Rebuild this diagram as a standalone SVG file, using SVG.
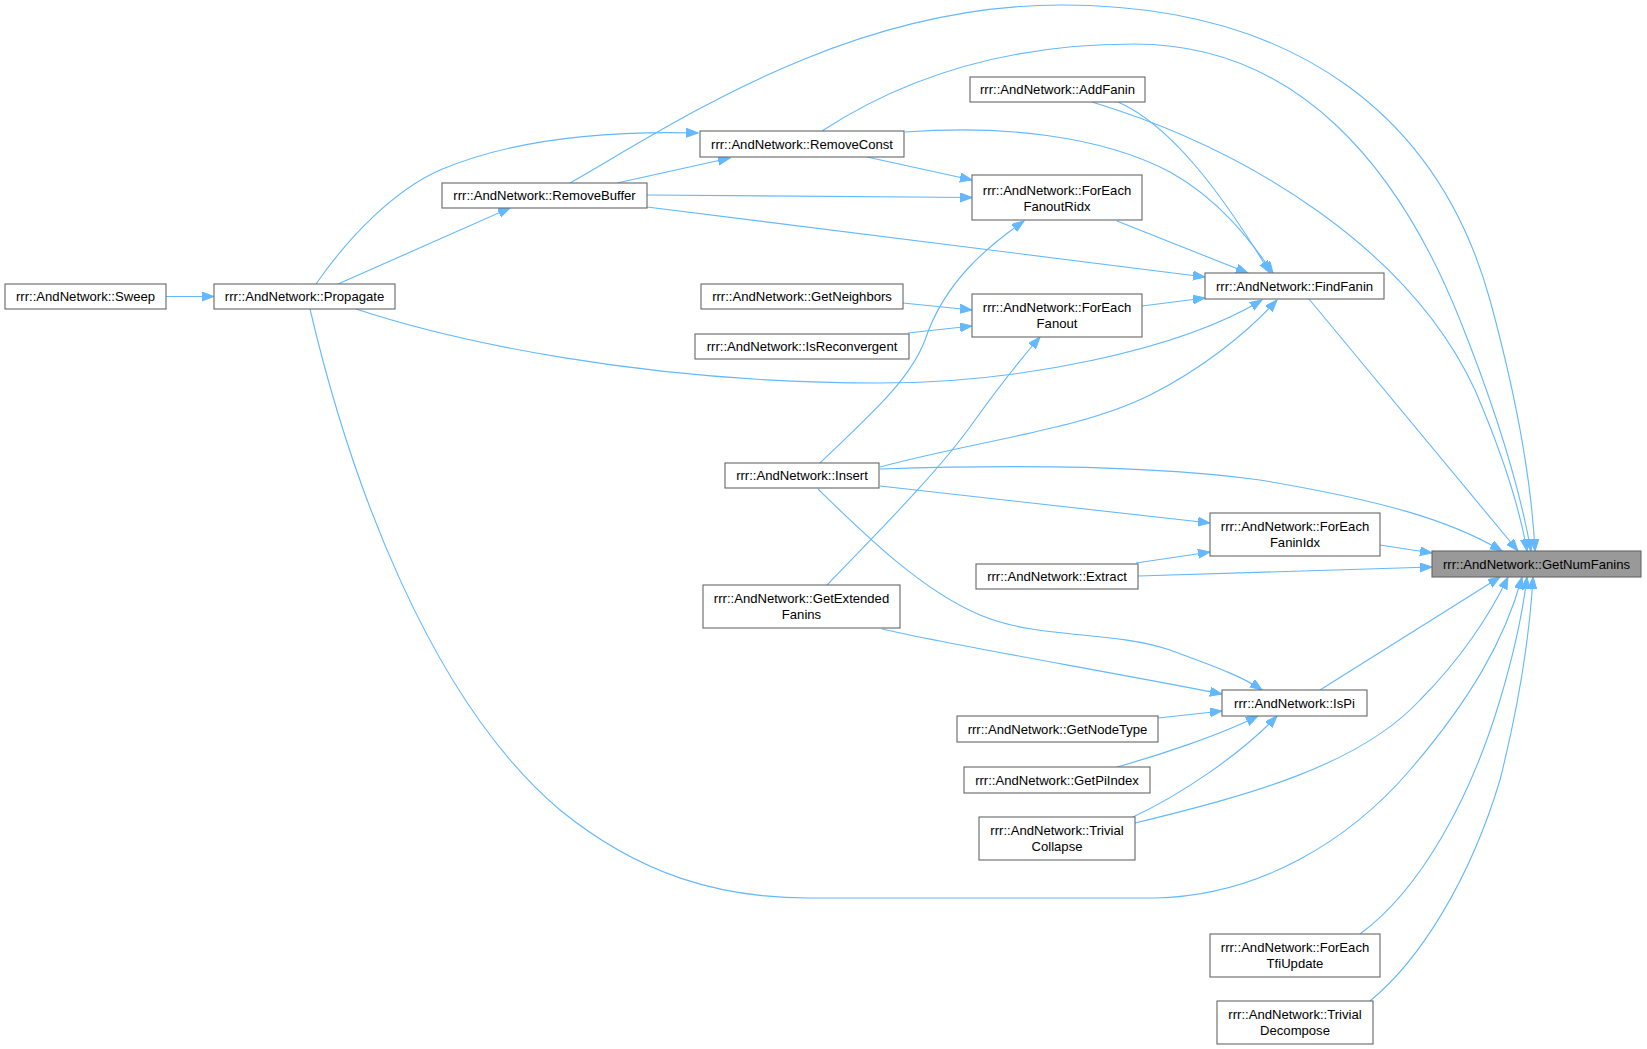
<svg xmlns="http://www.w3.org/2000/svg" width="1647" height="1049" viewBox="0 0 1647 1049">
<defs>
<marker id="ah" markerUnits="userSpaceOnUse" markerWidth="13" markerHeight="10" refX="12" refY="4.5" orient="auto">
<path d="M0,0 L12,4.5 L0,9 z" fill="#63b8ff" stroke="#63b8ff" stroke-width="1"/>
</marker>
<style>
.e{fill:none;stroke:#63b8ff;stroke-width:1.1;marker-end:url(#ah)}
.n rect{fill:#ffffff;stroke:#666666;stroke-width:1.1}
.n.hl rect{fill:#999999}
.n text{font-family:"Liberation Sans",Arial,Helvetica,sans-serif;font-size:13.1px;fill:#000000;text-anchor:middle}
</style>
</defs>
<rect x="0" y="0" width="1647" height="1049" fill="#ffffff"/>
<g id="edges">
<path class="e" d="M166,296.5 L214,296.5"/>
<path class="e" d="M338,284 L510,208"/>
<path class="e" d="M316,284 C350,235 395,190 440,170 C520,136 620,131 698,133"/>
<path class="e" d="M356,309 C450,340 640,383 880,383 C1020,383 1180,350 1262,300"/>
<path class="e" d="M310,309 C350,480 430,700 560,810 C640,875 720,898 809,898 L1155,898 C1260,896 1350,840 1410,770 C1470,700 1505,640 1522,577"/>
<path class="e" d="M617,183 L730,158"/>
<path class="e" d="M647,195 L972,197.5"/>
<path class="e" d="M647,207 L1205,277"/>
<path class="e" d="M570,183 C680,120 850,5 1061,5 C1300,5 1440,120 1490,300 C1520,410 1532,490 1535,551"/>
<path class="e" d="M867,157 L972,180"/>
<path class="e" d="M905,132 C1000,125 1100,135 1170,172 C1220,200 1250,240 1273,273"/>
<path class="e" d="M822,131 C900,80 1000,44 1134,44 C1300,44 1400,170 1460,320 C1500,420 1520,490 1531,551"/>
<path class="e" d="M1118,102 C1170,125 1220,190 1270,273"/>
<path class="e" d="M1092,102 C1250,150 1410,250 1475,390 C1505,460 1520,510 1527,551"/>
<path class="e" d="M1117,221 L1248,273"/>
<path class="e" d="M903,303 L972,310"/>
<path class="e" d="M908,333 L972,326"/>
<path class="e" d="M1142,306 L1205,298"/>
<path class="e" d="M1309,299 L1518,551"/>
<path class="e" d="M820,463 C870,415 910,380 925,340 C945,280 990,245 1024,221"/>
<path class="e" d="M880,467 C980,440 1080,430 1150,395 C1200,370 1245,335 1277,300"/>
<path class="e" d="M880,469 C1000,465 1150,465 1260,480 C1380,500 1450,520 1502,551"/>
<path class="e" d="M880,486 L1210,523"/>
<path class="e" d="M818,489 C860,530 920,590 980,615 C1040,640 1110,630 1170,650 C1210,665 1240,675 1262,690"/>
<path class="e" d="M827,585 C880,530 940,470 975,420 C1000,385 1020,360 1040,337"/>
<path class="e" d="M882,629 C950,645 1100,670 1222,694"/>
<path class="e" d="M1380,545 L1432,553"/>
<path class="e" d="M1136,563 L1210,552"/>
<path class="e" d="M1138,576 L1432,567"/>
<path class="e" d="M1320,690 L1500,577"/>
<path class="e" d="M1158,718 L1222,711"/>
<path class="e" d="M1117,767 C1160,755 1220,735 1258,716"/>
<path class="e" d="M1133,817 C1180,795 1240,755 1277,716"/>
<path class="e" d="M1135,823 C1250,795 1360,765 1420,700 C1460,660 1490,615 1508,577"/>
<path class="e" d="M1360,934 C1420,890 1470,800 1500,700 C1515,650 1523,610 1527,577"/>
<path class="e" d="M1370,1001 C1420,960 1470,880 1500,780 C1520,700 1530,630 1533,577"/>
</g>
<g id="n_sweep" class="n"><rect x="5" y="284" width="161" height="25"/><text x="85.5" y="301">rrr::AndNetwork::Sweep</text></g>
<g id="n_propagate" class="n"><rect x="214" y="284" width="181" height="25"/><text x="304.5" y="301">rrr::AndNetwork::Propagate</text></g>
<g id="n_removebuffer" class="n"><rect x="442" y="183" width="205" height="25"/><text x="544.5" y="200">rrr::AndNetwork::RemoveBuffer</text></g>
<g id="n_removeconst" class="n"><rect x="700" y="131" width="204" height="26"/><text x="802" y="148.5">rrr::AndNetwork::RemoveConst</text></g>
<g id="n_addfanin" class="n"><rect x="970" y="77" width="175" height="25"/><text x="1057.5" y="94">rrr::AndNetwork::AddFanin</text></g>
<g id="n_foreachfanoutridx" class="n"><rect x="972" y="175" width="170" height="45"/><text x="1057" y="194.6">rrr::AndNetwork::ForEach</text><text x="1057" y="211.4">FanoutRidx</text></g>
<g id="n_getneighbors" class="n"><rect x="701" y="284" width="202" height="25"/><text x="802" y="301">rrr::AndNetwork::GetNeighbors</text></g>
<g id="n_isreconvergent" class="n"><rect x="695" y="334" width="214" height="25"/><text x="802" y="351">rrr::AndNetwork::IsReconvergent</text></g>
<g id="n_foreachfanout" class="n"><rect x="972" y="294" width="170" height="43"/><text x="1057" y="312.3">rrr::AndNetwork::ForEach</text><text x="1057" y="328">Fanout</text></g>
<g id="n_findfanin" class="n"><rect x="1205" y="273" width="179" height="26"/><text x="1294.5" y="290.5">rrr::AndNetwork::FindFanin</text></g>
<g id="n_insert" class="n"><rect x="725" y="463" width="154" height="25"/><text x="802" y="480">rrr::AndNetwork::Insert</text></g>
<g id="n_foreachfaninidx" class="n"><rect x="1210" y="513" width="170" height="43"/><text x="1295" y="531.2">rrr::AndNetwork::ForEach</text><text x="1295" y="547">FaninIdx</text></g>
<g id="n_extract" class="n"><rect x="976" y="564" width="162" height="25"/><text x="1057" y="581">rrr::AndNetwork::Extract</text></g>
<g id="n_getnumfanins" class="n hl"><rect x="1432" y="551" width="209" height="26"/><text x="1536.5" y="568.5">rrr::AndNetwork::GetNumFanins</text></g>
<g id="n_getextendedfanins" class="n"><rect x="703" y="585" width="197" height="43"/><text x="801.5" y="603.2">rrr::AndNetwork::GetExtended</text><text x="801.5" y="619">Fanins</text></g>
<g id="n_ispi" class="n"><rect x="1222" y="690" width="145" height="26"/><text x="1294.5" y="708">rrr::AndNetwork::IsPi</text></g>
<g id="n_getnodetype" class="n"><rect x="957" y="716" width="201" height="26"/><text x="1057.5" y="733.5">rrr::AndNetwork::GetNodeType</text></g>
<g id="n_getpiindex" class="n"><rect x="964" y="767" width="186" height="26"/><text x="1057" y="784.5">rrr::AndNetwork::GetPiIndex</text></g>
<g id="n_trivialcollapse" class="n"><rect x="979" y="817" width="156" height="43"/><text x="1057" y="835.2">rrr::AndNetwork::Trivial</text><text x="1057" y="851">Collapse</text></g>
<g id="n_foreachtfiupdate" class="n"><rect x="1210" y="934" width="170" height="43"/><text x="1295" y="952.2">rrr::AndNetwork::ForEach</text><text x="1295" y="968">TfiUpdate</text></g>
<g id="n_trivialdecompose" class="n"><rect x="1217" y="1001" width="156" height="43"/><text x="1295" y="1019.2">rrr::AndNetwork::Trivial</text><text x="1295" y="1035">Decompose</text></g>
</svg>
